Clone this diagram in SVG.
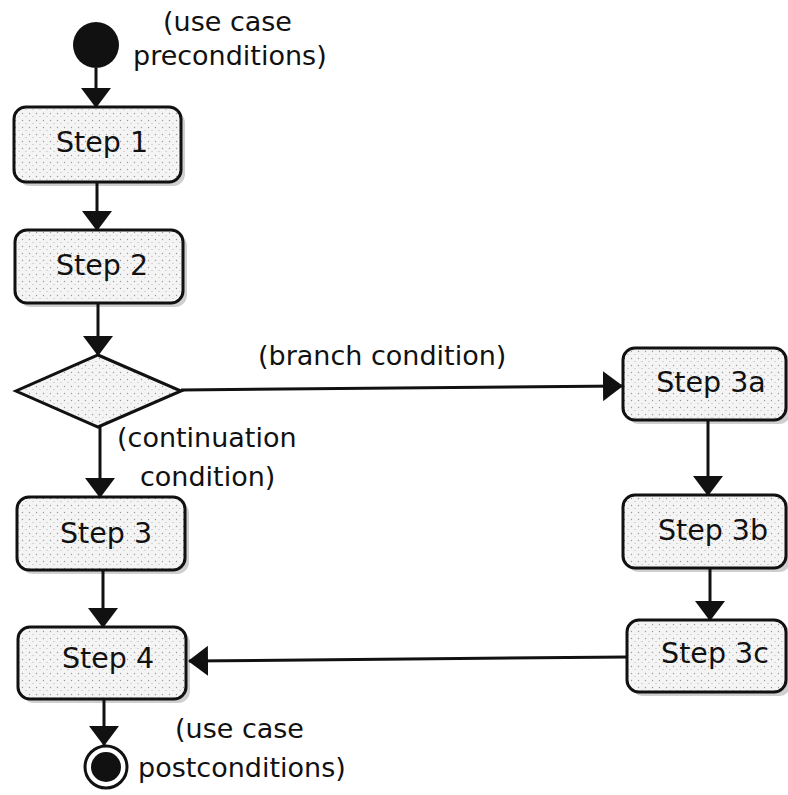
<svg xmlns="http://www.w3.org/2000/svg" width="788" height="795" viewBox="0 0 788 795">
<style>
.box{fill:url(#dots);stroke:#111;stroke-width:3}
.lbl{font-family:"DejaVu Sans",Verdana,sans-serif;font-size:28.5px;fill:#111;text-anchor:middle}
.txt{font-family:"DejaVu Sans",Verdana,sans-serif;font-size:27px;fill:#111}
.edge{fill:none;stroke:#111;stroke-width:3;marker-end:url(#arr)}
.shadow{fill:#cfcfcf}
</style>
<defs>
<pattern id="dots" width="7" height="7" patternUnits="userSpaceOnUse">
<rect width="7" height="7" fill="#f4f4f4"/>
<circle cx="1.5" cy="1.5" r="0.7" fill="#9a9a9a"/>
<circle cx="5" cy="4.5" r="0.6" fill="#b0b0b0"/>
</pattern>
<marker id="arr" viewBox="0 0 20 30" markerWidth="20" markerHeight="30" refX="19" refY="15" orient="auto" markerUnits="userSpaceOnUse">
<path d="M0,0 L20,15 L0,30 z" fill="#111"/>
</marker>
</defs>
<g id="start">
<circle cx="96" cy="45" r="23" fill="#111"/>
</g>
<g id="pre-label"><text class="txt" x="163" y="31">(use case</text><text class="txt" x="133" y="65">preconditions)</text></g>
<g id="step1"><rect class="shadow" x="18" y="111" width="167" height="75" rx="12"/><rect class="box" x="14" y="107" width="167" height="75" rx="12"/><text class="lbl" x="102" y="152">Step 1</text></g>
<g id="step2"><rect class="shadow" x="19" y="234" width="168" height="73" rx="12"/><rect class="box" x="15" y="230" width="168" height="73" rx="12"/><text class="lbl" x="102" y="275">Step 2</text></g>
<g id="decision"><polygon class="box" points="98,355 181,391 98,427 16,391"/></g>
<g id="step3"><rect class="shadow" x="21" y="501" width="168" height="73" rx="12"/><rect class="box" x="17" y="497" width="168" height="73" rx="12"/><text class="lbl" x="106" y="543">Step 3</text></g>
<g id="step4"><rect class="shadow" x="22" y="631" width="168" height="72" rx="12"/><rect class="box" x="18" y="627" width="168" height="72" rx="12"/><text class="lbl" x="108" y="668">Step 4</text></g>
<g id="step3a"><rect class="shadow" x="627" y="352" width="164" height="72" rx="12"/><rect class="box" x="623" y="348" width="163" height="72" rx="12"/><text class="lbl" x="711" y="392">Step 3a</text></g>
<g id="step3b"><rect class="shadow" x="627" y="499" width="164" height="73" rx="12"/><rect class="box" x="623" y="495" width="163" height="73" rx="12"/><text class="lbl" x="713" y="540">Step 3b</text></g>
<g id="step3c"><rect class="shadow" x="631" y="624" width="160" height="72" rx="12"/><rect class="box" x="627" y="620" width="159" height="72" rx="12"/><text class="lbl" x="715" y="663">Step 3c</text></g>
<g id="end"><circle cx="106" cy="767" r="21" fill="#fff" stroke="#111" stroke-width="3"/><circle cx="106" cy="767" r="15" fill="#111"/></g>
<g id="post-label"><text class="txt" x="175" y="738">(use case</text><text class="txt" x="138" y="777">postconditions)</text></g>
<g id="branch-label"><text class="txt" x="258" y="365">(branch condition)</text></g>
<g id="cont-label"><text class="txt" x="117" y="447">(continuation</text><text class="txt" x="140" y="486">condition)</text></g>
<g id="connectors">
<path class="edge" d="M96,68 L96,107"/>
<path class="edge" d="M97,182 L97,230"/>
<path class="edge" d="M98,303 L98,355"/>
<path class="edge" d="M100,427 L100,497"/>
<path class="edge" d="M103,570 L103,627"/>
<path class="edge" d="M104,699 L104,745"/>
<path class="edge" d="M181,390 L622,386"/>
<path class="edge" d="M708,420 L708,495"/>
<path class="edge" d="M710,568 L710,620"/>
<path class="edge" d="M627,657 L189,661"/>
</g>
</svg>
